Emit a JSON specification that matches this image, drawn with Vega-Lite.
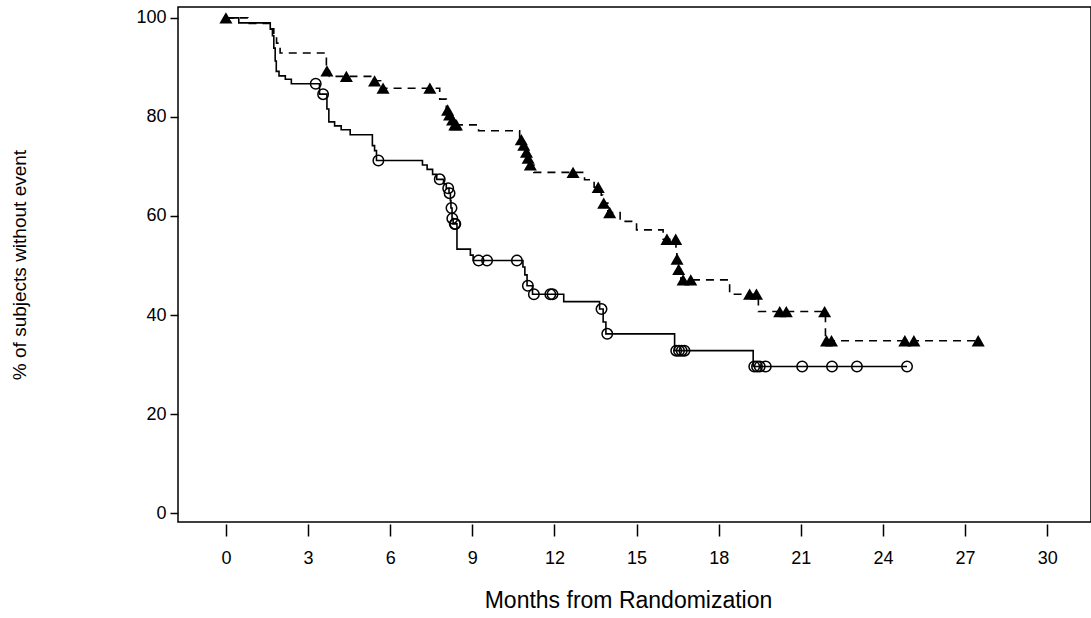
{
  "$schema": "https://vega.github.io/schema/vega-lite/v6.json",
  "width": 913,
  "height": 515,
  "autosize": {"type": "none"},
  "padding": {"left": 178, "top": 7, "right": 0, "bottom": 96},
  "background": "white",
  "config": {
    "view": {"stroke": "black", "strokeWidth": 1.5},
    "axis": {
      "grid": false,
      "domain": false,
      "labelFont": "Liberation Sans",
      "labelFontSize": 18,
      "labelColor": "black",
      "titleFont": "Liberation Sans",
      "titleFontSize": 19,
      "titleFontWeight": "normal",
      "titleColor": "black",
      "tickColor": "black",
      "tickWidth": 1.5
    }
  },
  "datasets": {
    "curve": [
      {"arm": "A", "t": 0, "s": 100}, {"arm": "A", "t": 0.47, "s": 99.0}, {"arm": "A", "t": 1.62, "s": 97.7},
      {"arm": "A", "t": 1.70, "s": 96.4}, {"arm": "A", "t": 1.75, "s": 93.9}, {"arm": "A", "t": 1.80, "s": 91.3},
      {"arm": "A", "t": 1.84, "s": 89.2}, {"arm": "A", "t": 1.94, "s": 88.3}, {"arm": "A", "t": 2.17, "s": 87.6},
      {"arm": "A", "t": 2.39, "s": 86.7}, {"arm": "A", "t": 3.42, "s": 84.6}, {"arm": "A", "t": 3.69, "s": 81.6},
      {"arm": "A", "t": 3.76, "s": 79.0}, {"arm": "A", "t": 3.97, "s": 78.2}, {"arm": "A", "t": 4.21, "s": 77.4},
      {"arm": "A", "t": 4.54, "s": 76.4}, {"arm": "A", "t": 5.35, "s": 74.2}, {"arm": "A", "t": 5.43, "s": 73.2},
      {"arm": "A", "t": 5.50, "s": 71.2}, {"arm": "A", "t": 7.18, "s": 70.3}, {"arm": "A", "t": 7.35, "s": 69.4},
      {"arm": "A", "t": 7.55, "s": 68.4}, {"arm": "A", "t": 7.70, "s": 67.4}, {"arm": "A", "t": 7.95, "s": 66.5},
      {"arm": "A", "t": 8.05, "s": 65.6}, {"arm": "A", "t": 8.15, "s": 64.6}, {"arm": "A", "t": 8.20, "s": 63.1},
      {"arm": "A", "t": 8.22, "s": 61.6}, {"arm": "A", "t": 8.26, "s": 59.5}, {"arm": "A", "t": 8.30, "s": 58.4},
      {"arm": "A", "t": 8.44, "s": 53.3}, {"arm": "A", "t": 8.93, "s": 52.1}, {"arm": "A", "t": 9.03, "s": 51.0},
      {"arm": "A", "t": 10.85, "s": 49.7}, {"arm": "A", "t": 10.92, "s": 48.1}, {"arm": "A", "t": 11.00, "s": 45.9},
      {"arm": "A", "t": 11.20, "s": 44.2}, {"arm": "A", "t": 12.34, "s": 42.7}, {"arm": "A", "t": 13.65, "s": 41.2},
      {"arm": "A", "t": 13.78, "s": 38.6}, {"arm": "A", "t": 13.88, "s": 36.2}, {"arm": "A", "t": 16.39, "s": 32.8},
      {"arm": "A", "t": 19.26, "s": 29.6}, {"arm": "A", "t": 24.88, "s": 29.6},
      {"arm": "B", "t": 0, "s": 100}, {"arm": "B", "t": 0.80, "s": 98.9}, {"arm": "B", "t": 1.65, "s": 97.8},
      {"arm": "B", "t": 1.75, "s": 96.6}, {"arm": "B", "t": 1.85, "s": 94.9}, {"arm": "B", "t": 1.98, "s": 92.9},
      {"arm": "B", "t": 3.67, "s": 89.3}, {"arm": "B", "t": 3.78, "s": 88.2}, {"arm": "B", "t": 5.35, "s": 87.3},
      {"arm": "B", "t": 5.65, "s": 85.8}, {"arm": "B", "t": 7.81, "s": 83.6}, {"arm": "B", "t": 8.05, "s": 81.4},
      {"arm": "B", "t": 8.15, "s": 80.4}, {"arm": "B", "t": 8.25, "s": 79.4}, {"arm": "B", "t": 8.32, "s": 78.4},
      {"arm": "B", "t": 9.23, "s": 77.2}, {"arm": "B", "t": 10.73, "s": 75.4}, {"arm": "B", "t": 10.85, "s": 74.3},
      {"arm": "B", "t": 10.95, "s": 72.9}, {"arm": "B", "t": 11.00, "s": 71.7}, {"arm": "B", "t": 11.08, "s": 70.3},
      {"arm": "B", "t": 11.25, "s": 68.8}, {"arm": "B", "t": 13.10, "s": 67.3}, {"arm": "B", "t": 13.45, "s": 65.8},
      {"arm": "B", "t": 13.71, "s": 64.2}, {"arm": "B", "t": 13.76, "s": 62.6}, {"arm": "B", "t": 13.95, "s": 60.7},
      {"arm": "B", "t": 14.40, "s": 58.9}, {"arm": "B", "t": 15.00, "s": 57.2}, {"arm": "B", "t": 15.97, "s": 55.3},
      {"arm": "B", "t": 16.44, "s": 53.2}, {"arm": "B", "t": 16.47, "s": 51.3}, {"arm": "B", "t": 16.52, "s": 49.2},
      {"arm": "B", "t": 16.62, "s": 47.1}, {"arm": "B", "t": 18.40, "s": 44.2}, {"arm": "B", "t": 19.45, "s": 40.7},
      {"arm": "B", "t": 21.90, "s": 34.8}, {"arm": "B", "t": 27.48, "s": 34.8}
    ],
    "censor": [
      {"arm": "A", "t": 3.28, "s": 86.7}, {"arm": "A", "t": 3.55, "s": 84.6}, {"arm": "A", "t": 5.57, "s": 71.2},
      {"arm": "A", "t": 7.81, "s": 67.4}, {"arm": "A", "t": 8.12, "s": 65.6}, {"arm": "A", "t": 8.17, "s": 64.6},
      {"arm": "A", "t": 8.24, "s": 61.6}, {"arm": "A", "t": 8.27, "s": 59.5}, {"arm": "A", "t": 8.36, "s": 58.4},
      {"arm": "A", "t": 8.38, "s": 58.4}, {"arm": "A", "t": 9.23, "s": 51.0}, {"arm": "A", "t": 9.54, "s": 51.0},
      {"arm": "A", "t": 10.63, "s": 51.0}, {"arm": "A", "t": 11.03, "s": 45.9}, {"arm": "A", "t": 11.25, "s": 44.2},
      {"arm": "A", "t": 11.85, "s": 44.2}, {"arm": "A", "t": 11.93, "s": 44.2}, {"arm": "A", "t": 13.72, "s": 41.2},
      {"arm": "A", "t": 13.93, "s": 36.2}, {"arm": "A", "t": 16.45, "s": 32.8}, {"arm": "A", "t": 16.55, "s": 32.8},
      {"arm": "A", "t": 16.65, "s": 32.8}, {"arm": "A", "t": 16.75, "s": 32.8}, {"arm": "A", "t": 19.30, "s": 29.6},
      {"arm": "A", "t": 19.40, "s": 29.6}, {"arm": "A", "t": 19.50, "s": 29.6}, {"arm": "A", "t": 19.72, "s": 29.6},
      {"arm": "A", "t": 21.05, "s": 29.6}, {"arm": "A", "t": 22.14, "s": 29.6}, {"arm": "A", "t": 23.05, "s": 29.6},
      {"arm": "A", "t": 24.88, "s": 29.6},
      {"arm": "B", "t": 0, "s": 100}, {"arm": "B", "t": 3.69, "s": 89.3}, {"arm": "B", "t": 4.40, "s": 88.2},
      {"arm": "B", "t": 5.43, "s": 87.3}, {"arm": "B", "t": 5.74, "s": 85.8}, {"arm": "B", "t": 7.45, "s": 85.8},
      {"arm": "B", "t": 8.10, "s": 81.4}, {"arm": "B", "t": 8.17, "s": 80.4}, {"arm": "B", "t": 8.28, "s": 79.4},
      {"arm": "B", "t": 8.36, "s": 78.4}, {"arm": "B", "t": 8.42, "s": 78.4}, {"arm": "B", "t": 10.79, "s": 75.4},
      {"arm": "B", "t": 10.88, "s": 74.3}, {"arm": "B", "t": 10.98, "s": 72.9}, {"arm": "B", "t": 11.04, "s": 71.7},
      {"arm": "B", "t": 11.12, "s": 70.3}, {"arm": "B", "t": 12.68, "s": 68.8}, {"arm": "B", "t": 13.60, "s": 65.8},
      {"arm": "B", "t": 13.80, "s": 62.6}, {"arm": "B", "t": 14.02, "s": 60.7}, {"arm": "B", "t": 16.11, "s": 55.3},
      {"arm": "B", "t": 16.43, "s": 55.3}, {"arm": "B", "t": 16.48, "s": 51.3}, {"arm": "B", "t": 16.54, "s": 49.2},
      {"arm": "B", "t": 16.70, "s": 47.1}, {"arm": "B", "t": 16.98, "s": 47.1}, {"arm": "B", "t": 19.13, "s": 44.2},
      {"arm": "B", "t": 19.38, "s": 44.2}, {"arm": "B", "t": 20.23, "s": 40.7}, {"arm": "B", "t": 20.47, "s": 40.7},
      {"arm": "B", "t": 21.87, "s": 40.7}, {"arm": "B", "t": 21.94, "s": 34.8}, {"arm": "B", "t": 22.12, "s": 34.8},
      {"arm": "B", "t": 24.80, "s": 34.8}, {"arm": "B", "t": 25.13, "s": 34.8}, {"arm": "B", "t": 27.48, "s": 34.8}
    ]
  },
  "encoding": {
    "x": {
      "field": "t", "type": "quantitative",
      "scale": {"domain": [-1.75, 31.6], "nice": false, "zero": false},
      "axis": {"title": "Months from Randomization", "values": [0, 3, 6, 9, 12, 15, 18, 21, 24, 27, 30],
               "tickSize": 12, "offset": 2, "labelPadding": 13, "titlePadding": 22, "titleFontSize": 23, "titleX": 450}
    },
    "y": {
      "field": "s", "type": "quantitative",
      "scale": {"domain": [-1.8, 102.2], "nice": false, "zero": false},
      "axis": {"title": "% of subjects without event", "values": [0, 20, 40, 60, 80, 100],
               "tickSize": 8, "labelPadding": 4, "titlePadding": 106}
    }
  },
  "layer": [
    {
      "data": {"name": "curve"},
      "transform": [{"filter": "datum.arm === 'A'"}],
      "mark": {"type": "line", "interpolate": "step-after", "color": "black", "strokeWidth": 1.6}
    },
    {
      "data": {"name": "curve"},
      "transform": [{"filter": "datum.arm === 'B'"}],
      "mark": {"type": "line", "interpolate": "step-after", "color": "black", "strokeWidth": 1.6, "strokeDash": [8, 6]}
    },
    {
      "data": {"name": "censor"},
      "transform": [{"filter": "datum.arm === 'A'"}],
      "mark": {"type": "point", "shape": "circle", "filled": false, "stroke": "black", "strokeWidth": 1.5, "size": 110, "opacity": 1}
    },
    {
      "data": {"name": "censor"},
      "transform": [{"filter": "datum.arm === 'B'"}],
      "mark": {"type": "point", "shape": "triangle-up", "filled": true, "fill": "black", "strokeWidth": 0, "size": 170, "opacity": 1}
    }
  ]
}
